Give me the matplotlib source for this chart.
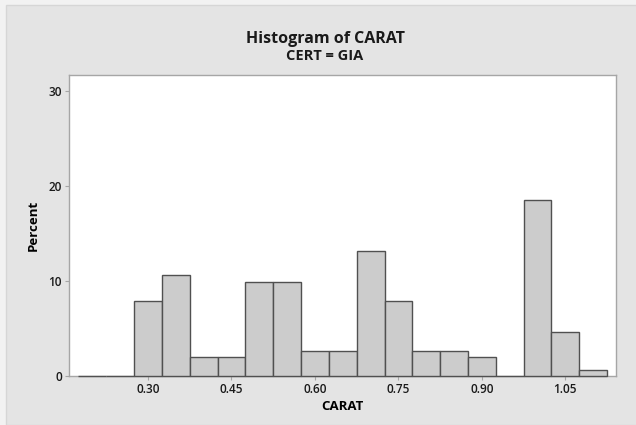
import matplotlib
matplotlib.use("Agg")
import matplotlib.pyplot as plt
from matplotlib.patches import Rectangle

centros = [0.20, 0.25, 0.30, 0.35, 0.40, 0.45, 0.50, 0.55, 0.60,
           0.65, 0.70, 0.75, 0.80, 0.85, 0.90, 0.95, 1.00, 1.05, 1.10]
porcentajes = [0.0, 0.0, 7.9, 10.6, 2.0, 2.0, 9.9, 9.9, 2.65,
               2.65, 13.2, 7.9, 2.65, 2.65, 2.0, 0.0, 18.5, 4.6, 0.66]
ancho = 0.05
xticks = [0.30, 0.45, 0.60, 0.75, 0.90, 1.05]
yticks = [0, 10, 20, 30]

plt.rcParams["font.family"] = ["Open Sans", "DejaVu Sans"]

fig = plt.figure(figsize=(6.36, 4.25), dpi=100)
fig.patch.set_facecolor("#f2f2f2")
# panel gris de fondo
fig.patches.append(Rectangle((6 / 636, 0), 1, 1 - 5 / 425,
                             transform=fig.transFigure, facecolor="#e4e4e4",
                             edgecolor="#d6d6d6", lw=1, zorder=-10))

ax = fig.add_axes([69 / 636, 1 - 376 / 425, (616 - 69) / 636, (376 - 75) / 425])
ax.set_zorder(5)
ax.set_facecolor("white")
ax.bar(centros, porcentajes, width=ancho, color="#cccccc",
       edgecolor="#505050", linewidth=1.0, zorder=3, clip_on=False)

ax.set_xlim(0.158, 1.141)
ax.set_ylim(0, 31.7)
ax.set_xticks(xticks)
ax.set_xticklabels([f"{v:.2f}" for v in xticks])
ax.set_yticks(yticks)
for s in ax.spines.values():
    s.set_color("#a6a6a6")
    s.set_linewidth(1.0)
ax.tick_params(length=3, width=0.8, color="#a6a6a6", labelsize=8.5,
               pad=2, labelcolor="#1a1a1a")
for t in ax.get_xticklabels() + ax.get_yticklabels():
    t.set_fontweight("semibold")

ax.set_xlabel("CARAT", fontsize=9.5, fontweight="bold", labelpad=3)
ax.set_ylabel("Percent", fontsize=9.5, fontweight="bold", labelpad=6)

fig.text(325 / 636, 1 - 39 / 425, "Histogram of CARAT", ha="center",
         va="center", fontsize=11.5, fontweight="bold", color="#1a1a1a")
fig.text(325 / 636, 1 - 56 / 425, "CERT = GIA", ha="center",
         va="center", fontsize=10.5, fontweight="bold", color="#1a1a1a")

fig.savefig("out.png", dpi=100, facecolor=fig.get_facecolor())
